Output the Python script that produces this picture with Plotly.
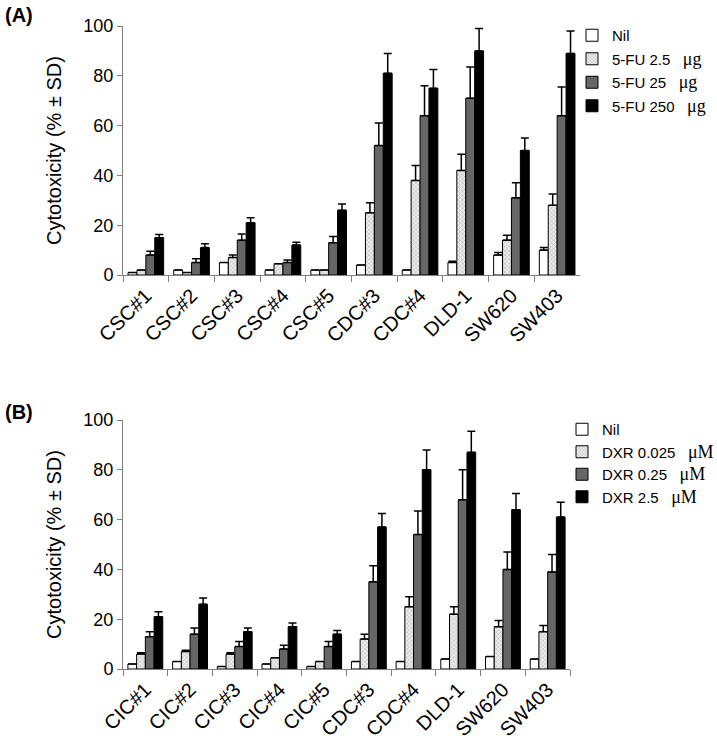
import plotly.graph_objects as go

cats_a = ["CSC#1", "CSC#2", "CSC#3", "CSC#4", "CSC#5", "CDC#3", "CDC#4", "DLD-1", "SW620", "SW403"]
cats_b = ["CIC#1", "CIC#2", "CIC#3", "CIC#4", "CIC#5", "CDC#3", "CDC#4", "DLD-1", "SW620", "SW403"]

names_a = ["Nil", "5-FU 2.5", "5-FU 25", "5-FU 250"]
unit_a = ["", "μg", "μg", "μg"]
vals_a = [
    [1, 2, 5, 2, 2, 4, 2, 5, 8, 10],
    [2, 1, 7, 4.5, 2, 25, 38, 42, 14, 28],
    [8, 5, 14, 5, 13, 52, 64, 71, 31, 64],
    [15, 11, 21, 12, 26, 81, 75, 90, 50, 89],
]
sd_a = [
    [0, 0, 0, 0, 0, 0, 0, 0.5, 1, 1],
    [0, 0, 1, 0, 0, 4, 6, 6.5, 2, 4.5],
    [1.5, 1.5, 2.5, 1, 2.5, 9, 12, 12.5, 6, 11.5],
    [1.3, 1.5, 2, 1.2, 2.5, 8, 7.5, 9, 5, 9],
]

names_b = ["Nil", "DXR 0.025", "DXR 0.25", "DXR 2.5"]
unit_b = ["", "μM", "μM", "μM"]
vals_b = [
    [2, 3, 1, 2, 1, 3, 3, 4, 5, 4],
    [6, 7, 6, 4.5, 3, 12, 25, 22, 17, 15],
    [13, 14, 9, 8, 9, 35, 54, 68, 40, 39],
    [21, 26, 15, 17, 14, 57, 80, 87, 64, 61],
]
sd_b = [
    [0, 0, 0, 0, 0, 0, 0, 0, 0, 0],
    [0.5, 0.5, 0.5, 0, 0, 2, 4, 3, 2.5, 2.5],
    [2, 2.5, 2, 1.5, 2, 6.5, 9.5, 12, 7, 7],
    [2, 2.5, 1.5, 1.5, 1.5, 5.5, 8, 8.5, 6.5, 6],
]

y_ticks = [0, 20, 40, 60, 80, 100]

FONT = "Liberation Sans, Arial, sans-serif"
fills = ["white", "#e0e0e0", "#666666", "black"]


def marker_for(i):
    m = dict(color=fills[i], line=dict(color="black", width=1))
    if i == 1:
        m["pattern"] = dict(shape="x", fgcolor="#8a8a8a", bgcolor="#ececec", size=3, solidity=0.35)
    return m


def label(name, unit):
    if not unit:
        return name
    return name + "&nbsp;&nbsp;&nbsp;<span style='font-family:Liberation Serif;font-size:18px'>" + unit + "</span>"


fig = go.Figure()
for i in range(4):
    fig.add_trace(go.Bar(
        x=cats_a, y=vals_a[i], name=label(names_a[i], unit_a[i]),
        marker=marker_for(i), xaxis="x", yaxis="y", legend="legend",
        legendgroup="a%d" % i,
        error_y=dict(type="data", array=sd_a[i], arrayminus=[0] * 10, symmetric=False,
                     color="black", thickness=1.5, width=4),
    ))
for i in range(4):
    fig.add_trace(go.Bar(
        x=cats_b, y=vals_b[i], name=label(names_b[i], unit_b[i]),
        marker=marker_for(i), xaxis="x2", yaxis="y2", legend="legend2",
        legendgroup="b%d" % i,
        error_y=dict(type="data", array=sd_b[i], arrayminus=[0] * 10, symmetric=False,
                     color="black", thickness=1.5, width=4),
    ))

W, H = 717, 739
axcol = "#808080"
xcommon = dict(type="category", showline=True, linecolor=axcol, linewidth=1,
               ticks="outside", tickson="boundaries", ticklen=6, tickcolor=axcol,
               tickangle=-45, tickfont=dict(family=FONT, size=20, color="black"),
               showgrid=False, zeroline=False, automargin=False)
ycommon = dict(range=[0, 100], tickvals=y_ticks, showline=True, linecolor=axcol, linewidth=1,
               ticks="outside", ticklen=5, tickcolor=axcol,
               tickfont=dict(family=FONT, size=18, color="black"),
               showgrid=False, zeroline=False, automargin=False,
               title=dict(text="Cytotoxicity (% ± SD)", font=dict(family=FONT, size=20, color="black"), standoff=16))

fig.update_layout(
    width=W, height=H,
    margin=dict(l=0, r=0, t=0, b=0, autoexpand=False),
    paper_bgcolor="white", plot_bgcolor="white",
    barmode="group", bargap=0.22, bargroupgap=0,
    font=dict(family=FONT, color="black"),
    xaxis=dict(domain=[123 / W, 580 / W], anchor="y", **xcommon),
    yaxis=dict(domain=[(H - 275) / H, (H - 26) / H], anchor="x", **ycommon),
    xaxis2=dict(domain=[123 / W, 570 / W], anchor="y2", **xcommon),
    yaxis2=dict(domain=[(H - 669) / H, (H - 420) / H], anchor="x2", **ycommon),
    legend=dict(x=572 / W, y=(H - 19) / H, xanchor="left", yanchor="top",
                font=dict(family=FONT, size=15, color="black"), tracegroupgap=1,
                bgcolor="rgba(0,0,0,0)", itemclick=False),
    legend2=dict(x=562 / W, y=(H - 413) / H, xanchor="left", yanchor="top",
                 font=dict(family=FONT, size=15, color="black"), tracegroupgap=0,
                 bgcolor="rgba(0,0,0,0)", itemclick=False),
    annotations=[
        dict(text="<b>(A)</b>", x=3 / W, y=(H - 15) / H, xref="paper", yref="paper",
             xanchor="left", yanchor="middle", showarrow=False,
             font=dict(family=FONT, size=20, color="black")),
        dict(text="<b>(B)</b>", x=3 / W, y=(H - 412) / H, xref="paper", yref="paper",
             xanchor="left", yanchor="middle", showarrow=False,
             font=dict(family=FONT, size=20, color="black")),
    ],
)

fig.write_html("out.html", config={"displayModeBar": False},
               post_script="document.body.style.margin='0';document.body.style.overflow='hidden';")
